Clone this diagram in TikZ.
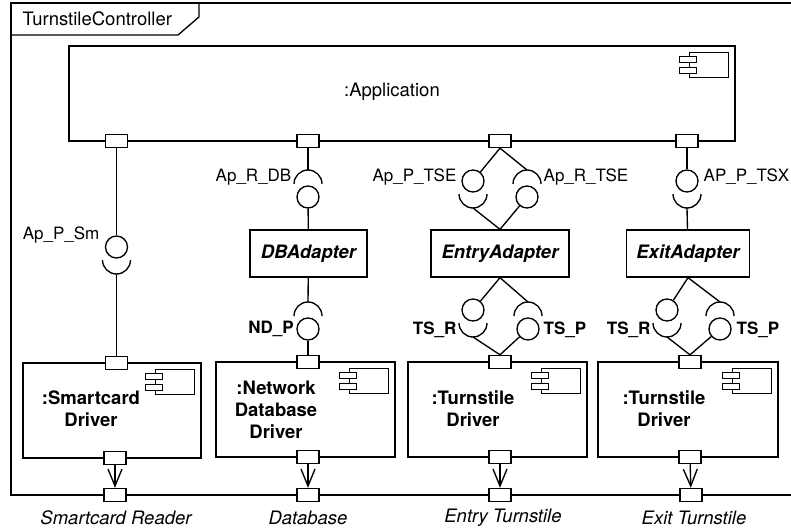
\documentclass[tikz,border=0pt]{standalone}
\usepackage{fontspec}
\setmainfont{TeX Gyre Heros}
\usetikzlibrary{arrows.meta,positioning}

% sockets: cap has its apex at #1, cup has its bottom at #1
\newcommand\sockcap[1]{\draw ([shift={(-14,14)}]#1) arc[start angle=180,end angle=0,radius=14pt];}
\newcommand\sockcup[1]{\draw ([shift={(-14,-14)}]#1) arc[start angle=180,end angle=360,radius=14pt];}

\begin{document}
\begin{tikzpicture}[x=1pt, y=-1pt, line width=1.35pt, >={Straight Barb[length=17pt,width=14pt]}]
    \tikzstyle{txt} = [font=\fontsize{18.5}{22}\selectfont, align=center, inner sep=0pt];
    \tikzstyle{btxt} = [txt, font=\fontsize{18.5}{22}\selectfont\bfseries];
    \tikzstyle{itxt} = [txt, font=\fontsize{18.5}{22}\selectfont\itshape];
    \tikzstyle{lbl} = [font=\fontsize{17}{20}\selectfont, inner sep=1pt];
    \tikzstyle{blbl} = [lbl, font=\fontsize{17}{20}\selectfont\bfseries];
    \tikzstyle{comp} = [draw, rectangle, minimum width=179pt, minimum height=95pt];
    \tikzstyle{adapter} = [draw, rectangle, minimum height=47pt, txt, font=\fontsize{18.5}{22}\selectfont\bfseries\itshape];
    \tikzstyle{port} = [draw, fill=white, rectangle, minimum width=22pt, minimum height=13pt, inner sep=0pt];
    \tikzstyle{ball} = [draw, fill=white, circle, minimum size=22pt, inner sep=0pt];
    \useasboundingbox (0,0) rectangle (791,529);
    % frame
    \draw (11,3) rectangle (800,495);
    \draw (11,35) -- (178,35) -- (199,17) -- (199,3);
    \node [txt, anchor=west] (title) at (22,19) {TurnstileController};
    % components
    \node [draw, minimum width=666pt, minimum height=95pt] (app) at (402,93.5) {};
    \node [txt] (apptxt) at (392,92) {:Application};
    \node [comp, minimum width=178pt] (scd) at (112,410.5) {};
    \node [comp] (ndd) at (305.5,409.5) {};
    \node [comp] (ted) at (497.5,409.5) {};
    \node [comp, minimum width=180pt] (xtd) at (688,409.5) {};
    \node [btxt] (scdtxt) at (91,409) {:Smartcard\\Driver};
    \node [btxt] (nddtxt) at (276,410) {:Network\\Database\\Driver};
    \node [btxt] (tedtxt) at (473,409) {:Turnstile\\Driver};
    \node [btxt] (xtdtxt) at (664,409) {:Turnstile\\Driver};
    \foreach \c in {app,scd,ndd,ted,xtd} {
      \draw ([shift={(-46,7)}]\c.north east) rectangle ([shift={(-7,32)}]\c.north east);
      \draw [fill=white] ([shift={(-56,11)}]\c.north east) rectangle ([shift={(-39,17)}]\c.north east);
      \draw [fill=white] ([shift={(-56,22)}]\c.north east) rectangle ([shift={(-39,28)}]\c.north east);
    }
    \node [adapter, minimum width=117pt] (dba) at (308.5,253.5) {DBAdapter};
    \node [adapter, minimum width=138pt] (ena) at (500,253.5) {EntryAdapter};
    \node [adapter, minimum width=123pt] (exa) at (688,253.5) {ExitAdapter};
    % ports
    \node [port] (ap1) at (116.5,141) {};
    \node [port] (ap2) at (308,141) {};
    \node [port] (ap3) at (500,141) {};
    \node [port] (ap4) at (687,141) {};
    \node [port] (scdin) at (116.5,363) {};
    \node [port] (nddin) at (308,362) {};
    \node [port] (tedin) at (500,362) {};
    \node [port] (xtdin) at (690,362) {};
    \node [port] (scdout) at (115,458) {};
    \node [port] (nddout) at (308,457) {};
    \node [port] (tedout) at (500,457) {};
    \node [port] (xtdout) at (690,457) {};
    \node [port] (reader) at (115,495) {};
    \node [port] (db) at (308,495) {};
    \node [port] (entry) at (500,495) {};
    \node [port] (exit) at (691,495) {};
    \node [itxt] at (116,518) {Smartcard Reader};
    \node [itxt] at (308,518) {Database};
    \node [itxt] at (503,518) {Entry Turnstile};
    \node [itxt] at (694,518) {Exit Turnstile};
    % smartcard
    \node [ball] (smP) at (116.5,247) {};
    \coordinate (smR) at (116.5,274); \sockcup{smR}
    \node [lbl, anchor=east] at (101,235) {Ap\_P\_Sm};
    \draw (ap1) -- (smP);
    \draw (smR) -- (scdin);
    % database
    \coordinate (dbR) at (308,170); \sockcap{dbR}
    \node [ball] (dbP) at (308,197) {};
    \node [lbl, anchor=east] at (293,177) {Ap\_R\_DB};
    \draw (ap2) -- (dbR);
    \draw (dbP) -- (dba);
    \coordinate (ndR) at (308,302); \sockcap{ndR}
    \node [ball] (ndP) at (308,329) {};
    \node [blbl, left=1pt of ndP] {ND\_P};
    \draw (dba) -- (ndR);
    \draw (ndP) -- (nddin);
    % entry
    \node [ball] (tseP) at (473,181) {};
    \coordinate (tseC) at (473,208); \sockcup{tseC}
    \coordinate (tseR) at (527,170); \sockcap{tseR}
    \node [ball] (tseB) at (527,197) {};
    \node [lbl, anchor=east] at (458,177) {Ap\_P\_TSE};
    \node [lbl, anchor=west] at (542,177) {Ap\_R\_TSE};
    \draw (ap3.south) -- (tseP);
    \draw (ap3.south) -- (tseR);
    \draw (tseC) -- (ena.north);
    \draw (tseB) -- (ena.north);
    \node [ball] (tsR1) at (473,310) {};
    \coordinate (tsR1c) at (473,337); \sockcup{tsR1c}
    \coordinate (tsP1s) at (528,302); \sockcap{tsP1s}
    \node [ball] (tsP1) at (528,329) {};
    \node [blbl, anchor=east] at (458,330) {TS\_R};
    \node [blbl, anchor=west] at (542,330) {TS\_P};
    \draw (ena.south) -- (tsR1);
    \draw (ena.south) -- (tsP1s);
    \draw (tsR1c) -- (tedin.north);
    \draw (tsP1) -- (tedin.north);
    % exit
    \node [ball] (tsxP) at (687,181) {};
    \coordinate (tsxC) at (687,208); \sockcup{tsxC}
    \node [lbl, anchor=west] at (702,177) {AP\_P\_TSX};
    \draw (ap4) -- (tsxP);
    \draw (tsxC) -- (exa);
    \node [ball] (tsR2) at (667,310) {};
    \coordinate (tsR2c) at (667,337); \sockcup{tsR2c}
    \coordinate (tsP2s) at (720,302); \sockcap{tsP2s}
    \node [ball] (tsP2) at (720,329) {};
    \node [blbl, anchor=east] at (652,330) {TS\_R};
    \node [blbl, anchor=west] at (735,330) {TS\_P};
    \draw (exa.south) -- (tsR2);
    \draw (exa.south) -- (tsP2s);
    \draw (tsR2c) -- (xtdin.north);
    \draw (tsP2) -- (xtdin.north);
    % delegations
    \draw [->] (scdout) -- (reader);
    \draw [->] (nddout) -- (db);
    \draw [->] (tedout) -- (entry);
    \draw [->] (xtdout) -- (exit);
\end{tikzpicture}
\end{document}
